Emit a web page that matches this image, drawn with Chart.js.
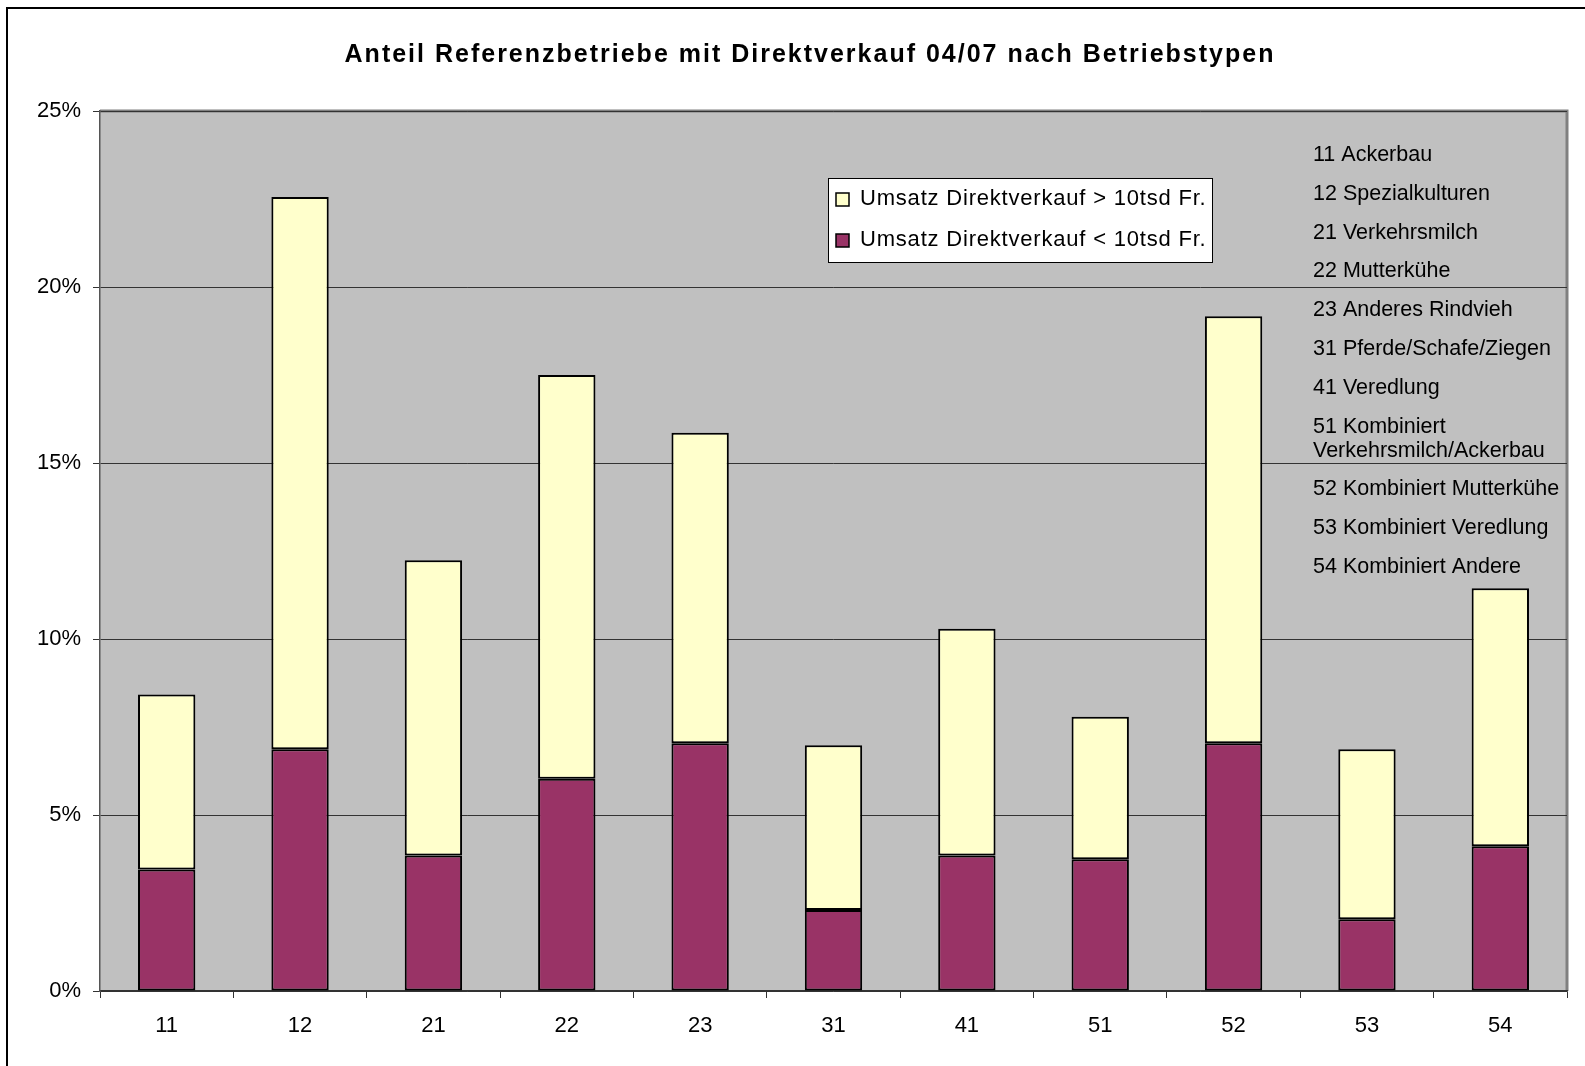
<!DOCTYPE html>
<html>
<head>
<meta charset="utf-8">
<script src="https://cdn.jsdelivr.net/npm/chart.js@4/dist/chart.umd.min.js"></script>
<style>
  html, body { margin: 0; padding: 0; background: #fff; }
  canvas { display: block; }
</style>
</head>
<body>
<canvas id="bar-chart" width="1585" height="1066"></canvas>
<script>
const categories = ['11', '12', '21', '22', '23', '31', '41', '51', '52', '53', '54']
const unter10tsd = [3.45, 6.87, 3.85, 6.03, 7.04, 2.30, 3.85, 3.74, 7.04, 2.04, 4.11]
const ueber10tsd = [4.97, 15.69, 8.39, 11.47, 8.82, 4.68, 6.44, 4.05, 12.13, 4.83, 7.33]
const yTicks = [0, 5, 10, 15, 20, 25]
const betriebstypen = [
  '11 Ackerbau',
  '12 Spezialkulturen',
  '21 Verkehrsmilch',
  '22 Mutterkühe',
  '23 Anderes Rindvieh',
  '31 Pferde/Schafe/Ziegen',
  '41 Veredlung',
  '51 Kombiniert|Verkehrsmilch/Ackerbau',
  '52 Kombiniert Mutterkühe',
  '53 Kombiniert Veredlung',
  '54 Kombiniert Andere'
]
const title = 'Anteil Referenzbetriebe mit Direktverkauf 04/07 nach Betriebstypen'

const FONT = '"Liberation Sans", Arial, sans-serif'

// frame, plot background, title, legend box and type list
const decor = {
  id: 'decor',
  beforeDraw(chart) {
    const ctx = chart.ctx
    const a = chart.chartArea
    ctx.save()
    ctx.fillStyle = '#fff'
    ctx.fillRect(0, 0, chart.width, chart.height)
    ctx.strokeStyle = '#000'
    ctx.lineWidth = 2
    ctx.beginPath()
    ctx.moveTo(7, chart.height)
    ctx.lineTo(7, 8)
    ctx.lineTo(chart.width, 8)
    ctx.stroke()
    ctx.fillStyle = '#c0c0c0'
    ctx.fillRect(a.left, a.top, a.right - a.left, a.bottom - a.top)
    ctx.strokeStyle = '#808080'
    ctx.lineWidth = 3
    ctx.beginPath()
    ctx.moveTo(a.left, a.top)
    ctx.lineTo(a.right, a.top)
    ctx.lineTo(a.right, a.bottom)
    ctx.stroke()
    ctx.fillStyle = '#000'
    ctx.font = 'bold 25px ' + FONT
    ctx.letterSpacing = '2px'
    ctx.textAlign = 'center'
    ctx.textBaseline = 'middle'
    ctx.fillText(title, 810, 55)
    ctx.restore()
  },
  afterDatasetsDraw(chart) {
    const ctx = chart.ctx
    ctx.save()
    ctx.font = '21.5px ' + FONT
    ctx.textBaseline = 'middle'
    ctx.textAlign = 'left'
    ctx.fillStyle = '#000'
    // Betriebstypen list
    let y = 155
    betriebstypen.forEach(t => {
      const parts = t.split('|')
      parts.forEach((p, i) => {
        ctx.fillText(p, 1313, y + i * 24)
      })
      y += 38.8 + (parts.length - 1) * 24
    })
    // legend
    ctx.fillStyle = '#fff'
    ctx.fillRect(828, 178, 384, 84)
    ctx.strokeStyle = '#000'
    ctx.lineWidth = 1
    ctx.strokeRect(828.5, 178.5, 384, 84)
    ctx.font = '22px ' + FONT
    ctx.letterSpacing = '0.8px'
    const ds = chart.data.datasets
    const order = [1, 0]
    order.forEach((k, i) => {
      const cy = 199 + i * 41
      ctx.fillStyle = ds[k].backgroundColor
      ctx.fillRect(836, cy - 6, 13, 13)
      ctx.lineWidth = 1.5
      ctx.strokeRect(836, cy - 6, 13, 13)
      ctx.fillStyle = '#000'
      ctx.fillText(ds[k].label, 860, cy)
    })
    ctx.restore()
  }
}

new Chart(document.getElementById('bar-chart'), {
  type: 'bar',
  data: {
    labels: categories,
    datasets: [
      {
        label: 'Umsatz Direktverkauf < 10tsd Fr.',
        backgroundColor: '#993366',
        borderColor: '#000',
        borderWidth: 2,
        borderSkipped: false,
        data: unter10tsd
      },
      {
        label: 'Umsatz Direktverkauf > 10tsd Fr.',
        backgroundColor: '#ffffcc',
        borderColor: '#000',
        borderWidth: 2,
        borderSkipped: false,
        data: ueber10tsd
      }
    ]
  },
  options: {
    responsive: false,
    animation: false,
    devicePixelRatio: 1,
    layout: { padding: { top: 111, right: 18, left: 0, bottom: 0 } },
    plugins: {
      legend: { display: false },
      title: { display: false },
      tooltip: { enabled: false }
    },
    datasets: { bar: { barPercentage: 0.43, categoryPercentage: 1 } },
    scales: {
      x: {
        stacked: true,
        afterFit(scale) { scale.height = 75 },
        grid: { drawOnChartArea: false, drawTicks: true, tickLength: 7, color: '#333', offset: true },
        border: { color: '#333', width: 1.5 },
        ticks: { color: '#000', font: { family: FONT, size: 22 }, padding: 15 }
      },
      y: {
        stacked: true,
        min: 0,
        max: 25,
        afterFit(scale) { scale.width = 100 },
        afterBuildTicks(scale) { scale.ticks = yTicks.map(v => ({ value: v })) },
        grid: { color: '#333', lineWidth: 1, tickLength: 7 },
        border: { color: '#555', width: 1.5 },
        ticks: {
          color: '#000',
          font: { family: FONT, size: 22 },
          padding: 12,
          callback: v => v + '%'
        }
      }
    }
  },
  plugins: [decor]
})
</script>
</body>
</html>
